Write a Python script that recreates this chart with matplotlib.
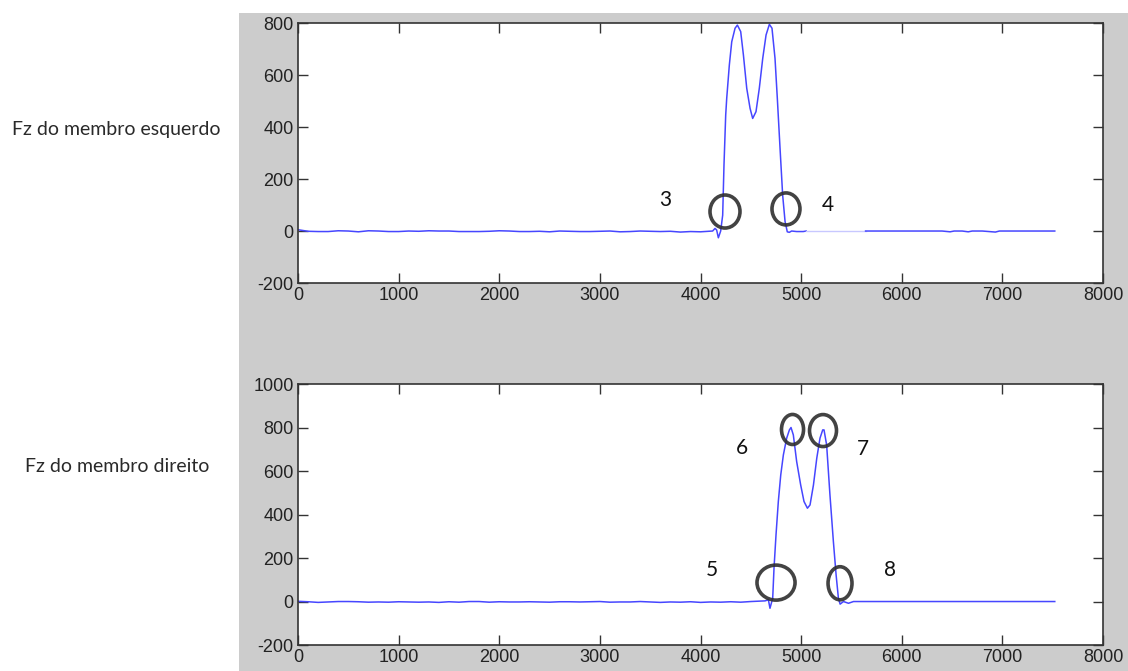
import numpy as np
import matplotlib.pyplot as plt
from matplotlib.patches import Ellipse, Rectangle

plt.rcParams['font.family'] = ['Liberation Sans', 'DejaVu Sans']
plt.rcParams['axes.unicode_minus'] = False

# ---- dados ----
# membro esquerdo: linha de base antes do apoio (passo 100)
esq_base_x = list(range(0, 4100, 100))
esq_base_y = [5, -1, -2, -2, 1, 0, -3, 1, 0, -2, -2, 0, -1, 1, 0, 0, -2, -2, -2, -1,
              1, 0, -2, -2, -1, -3, 0, -1, -2, -2, -1, 0, -3, -2, 0, -1, -2, -1, -4, -2,
              -3]
# fase de apoio esquerdo
esq_apoio_x = [4120, 4144, 4160, 4177, 4200, 4220, 4233, 4250, 4260, 4286, 4310, 4343,
               4366, 4399, 4426, 4459, 4492, 4518, 4551, 4584, 4618, 4651, 4684, 4710,
               4740, 4763, 4790, 4816, 4840, 4862, 4882, 4905, 4955, 5020, 5050]
esq_apoio_y = [0, 10, 4, -26, 0, 61, 254, 446, 510, 638, 728, 780,
               792, 767, 677, 549, 472, 433, 459, 549, 664, 754, 795, 780,
               664, 510, 318, 138, 36, -3, -5, 0, -2, -2, 0]
# trecho claro (sem dados)
esq_gap_x = [5050, 5640]
esq_gap_y = [0, 0]
# linha de base depois
esq_pos_x = [5640, 5800, 6000, 6200, 6400, 6480, 6520, 6600, 6660, 6700, 6800, 6930,
             6970, 7100, 7300, 7520]
esq_pos_y = [0, 0, 0, 0, 0, -3, 0, 0, -3, 0, 0, -4, 0, 0, 0, 0]

# membro direito
dir_base_x = list(range(0, 4600, 100))
dir_base_y = [1, -1, -4, -2, 0, 0, -1, -3, -2, -3, -1, -2, -3, -2, -4, -1, -3, 0, 0, -3,
              -1, -2, -2, -1, -2, -3, -1, -1, -2, -1, 0, -3, -2, -2, 0, -2, -4, -2, -3, -1,
              -4, -2, -3, -1, -3, 0]
dir_apoio_x = [4641, 4674, 4690, 4717, 4730, 4750, 4773, 4797, 4823, 4856, 4883, 4899,
               4922, 4955, 4995, 5028, 5062, 5088, 5122, 5155, 5187, 5214, 5227, 5253,
               5286, 5320, 5347, 5370, 5387, 5420, 5470, 5520, 5586]
dir_apoio_y = [3, 8, -31, 15, 153, 307, 460, 582, 674, 751, 789, 800,
               766, 644, 536, 460, 429, 444, 536, 659, 751, 789, 789, 720,
               490, 276, 123, 15, -12, 0, -8, 0, 0]
dir_pos_x = [5586, 6000, 6500, 7000, 7520]
dir_pos_y = [0, 0, 0, 0, 0]

# marcas (círculos) e números
esq_circ_x = [4243, 4849]
esq_circ_y = [75, 85]
esq_circ_w = [298, 278]
esq_circ_h = [127, 123]
esq_num = ['3', '4']
esq_num_x = [3647, 5267]
esq_num_y = [119, 100]

dir_circ_x = [4750, 4914, 5217, 5386]
dir_circ_y = [87, 791, 786, 84]
dir_circ_w = [378, 219, 268, 238]
dir_circ_h = [161, 138, 147, 152]
dir_num = ['5', '6', '7', '8']
dir_num_x = [4114, 4412, 5615, 5883]
dir_num_y = [143, 708, 699, 143]

x_ticks = list(range(0, 9000, 1000))
y_ticks_esq = list(range(-200, 1000, 200))
y_ticks_dir = list(range(-200, 1200, 200))

# ---- figura ----
fig = plt.figure(figsize=(11.28, 6.71), dpi=100)
fig.patches.append(Rectangle((239 / 1128, 0), 1, 1 - 13 / 671, transform=fig.transFigure,
                             facecolor='#cccccc', edgecolor='none', zorder=-5))

ax1 = fig.add_axes([0.2642, 0.5782, 0.7137, 0.3875])
ax2 = fig.add_axes([0.2642, 0.0387, 0.7137, 0.3890])

azul = '#4646ff'
ax1.plot(esq_base_x + esq_apoio_x, esq_base_y + esq_apoio_y, color=azul, lw=1.1)
ax1.plot(esq_gap_x, esq_gap_y, color='#c8c8ff', lw=1)
ax1.plot(esq_pos_x, esq_pos_y, color=azul, lw=1.1)
ax2.plot(dir_base_x + dir_apoio_x + dir_pos_x, dir_base_y + dir_apoio_y + dir_pos_y,
         color=azul, lw=1.1)

for ax, cx, cy, cw, ch in [(ax1, esq_circ_x, esq_circ_y, esq_circ_w, esq_circ_h),
                           (ax2, dir_circ_x, dir_circ_y, dir_circ_w, dir_circ_h)]:
    for x, y, w, h in zip(cx, cy, cw, ch):
        ax.add_patch(Ellipse((x, y), w, h, fill=False, edgecolor='#2e2e2e', lw=2.6,
                             alpha=0.9, zorder=3))

for ax, nums, nx, ny in [(ax1, esq_num, esq_num_x, esq_num_y),
                         (ax2, dir_num, dir_num_x, dir_num_y)]:
    for t, x, y in zip(nums, nx, ny):
        ax.text(x, y, t, ha='center', va='center', fontsize=15, family='Lato', color='#111111')

for ax, yt in [(ax1, y_ticks_esq), (ax2, y_ticks_dir)]:
    ax.set_xlim(0, 8000)
    ax.set_ylim(yt[0], yt[-1])
    ax.set_xticks(x_ticks)
    ax.set_yticks(yt)
    ax.tick_params(direction='in', length=7, width=1, top=True, right=True,
                   labelsize=13, colors='#333333', labelcolor='#222222', pad=3)
    for s in ax.spines.values():
        s.set_color('#333333')
        s.set_linewidth(1.2)

fig.text(116 / 1128, 1 - 129 / 671, 'Fz do membro esquerdo', ha='center', va='center',
         fontsize=14, family='Lato', color='#2a2a2a')
fig.text(117 / 1128, 1 - 466 / 671, 'Fz do membro direito', ha='center', va='center',
         fontsize=14, family='Lato', color='#2a2a2a')

fig.savefig('out.png', dpi=100)
